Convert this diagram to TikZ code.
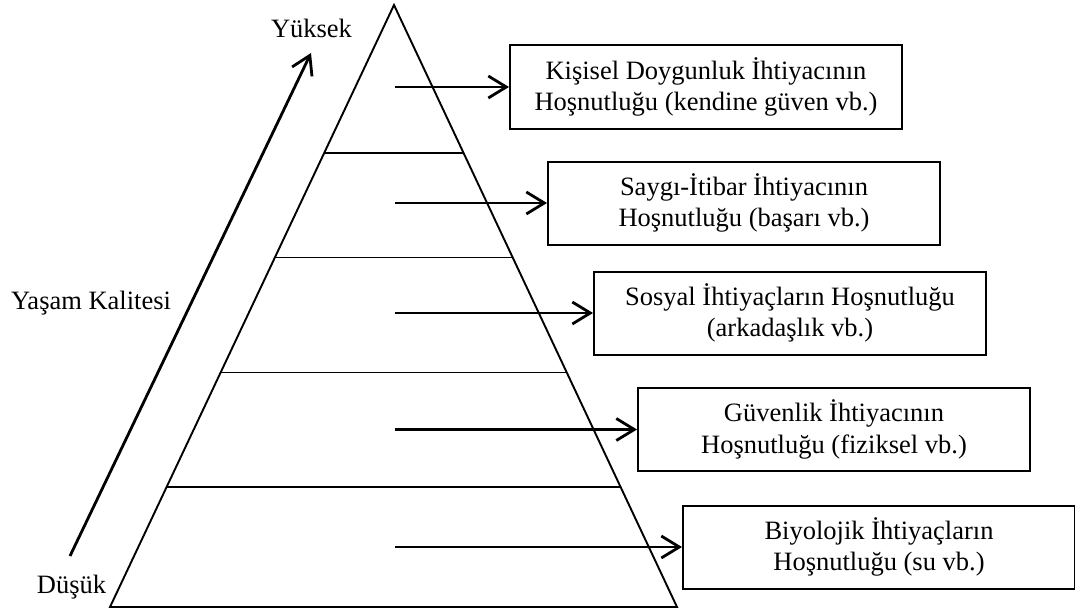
\documentclass[tikz,border=0pt]{standalone}
\usepackage{fontspec}
\setmainfont{Liberation Serif}
\usetikzlibrary{arrows.meta,calc,positioning}

\begin{document}
\begin{tikzpicture}[x=1pt, y=-1pt, node distance=116pt]
    \tikzstyle{need} = [rectangle, draw=black, line width=2pt, minimum width=392pt, minimum height=83pt, align=center, inner sep=0pt, font=\fontsize{26.5}{31.5}\selectfont]
    \tikzstyle{axistext} = [inner sep=0pt, font=\fontsize{26.5}{31.5}\selectfont]
    \tikzstyle{pointer} = [line width=2.8pt, -{Straight Barb[length=18pt, width=22pt]}]
    \tikzstyle{level} = [line width=1.7pt]

    \useasboundingbox (0,0) rectangle (1075,615);

    % Pyramid
    \coordinate (apex) at (394,5);
    \coordinate (bl) at (110,607);
    \coordinate (br) at (677,607);
    \draw [line width=1.9pt] (bl) -- (apex) -- (br) -- cycle;
    \foreach \t in {0.2454,0.4196,0.6103,0.801}
        \draw [level] ($(apex)!\t!(bl)$) -- ($(apex)!\t!(br)$);

    % Quality of life axis
    \coordinate (low) at (70,556);
    \coordinate (high) at (311,53);
    \draw [pointer] (low) -- (high);
    \node [axistext, anchor=base] (yuksek) at (311.5,38) {Yüksek};
    \node [axistext, anchor=base] (kalite) at (91,309) {Yaşam Kalitesi};
    \node [axistext, anchor=base] (dusuk) at (71.5,593) {Düşük};

    % Needs
    \node [need] (kisisel) at (706,87) {Kişisel Doygunluk İhtiyacının\\Hoşnutluğu (kendine güven vb.)};
    \node [need, below of=kisisel, xshift=38pt] (saygi) {Saygı-İtibar İhtiyacının\\Hoşnutluğu (başarı vb.)};
    \node [need, below of=saygi, xshift=46pt, node distance=110pt] (sosyal) {Sosyal İhtiyaçların Hoşnutluğu\\(arkadaşlık vb.)};
    \node [need, below of=sosyal, xshift=44pt, node distance=116.5pt] (guvenlik) {Güvenlik İhtiyacının\\Hoşnutluğu (fiziksel vb.)};
    \node [need, below of=guvenlik, xshift=45pt, node distance=117.5pt] (biyolojik) {Biyolojik İhtiyaçların\\Hoşnutluğu (su vb.)};

    % Arrows
    \coordinate (start) at (395,0);
    \draw [pointer] (kisisel.west -| start) -- (kisisel.west);
    \draw [pointer] (saygi.west -| start) -- (saygi.west);
    \draw [pointer] (sosyal.west -| start) -- (sosyal.west);
    \draw [pointer] (guvenlik.west -| start) -- (guvenlik.west);
    \draw [pointer] (biyolojik.west -| start) -- (biyolojik.west);
\end{tikzpicture}
\end{document}
